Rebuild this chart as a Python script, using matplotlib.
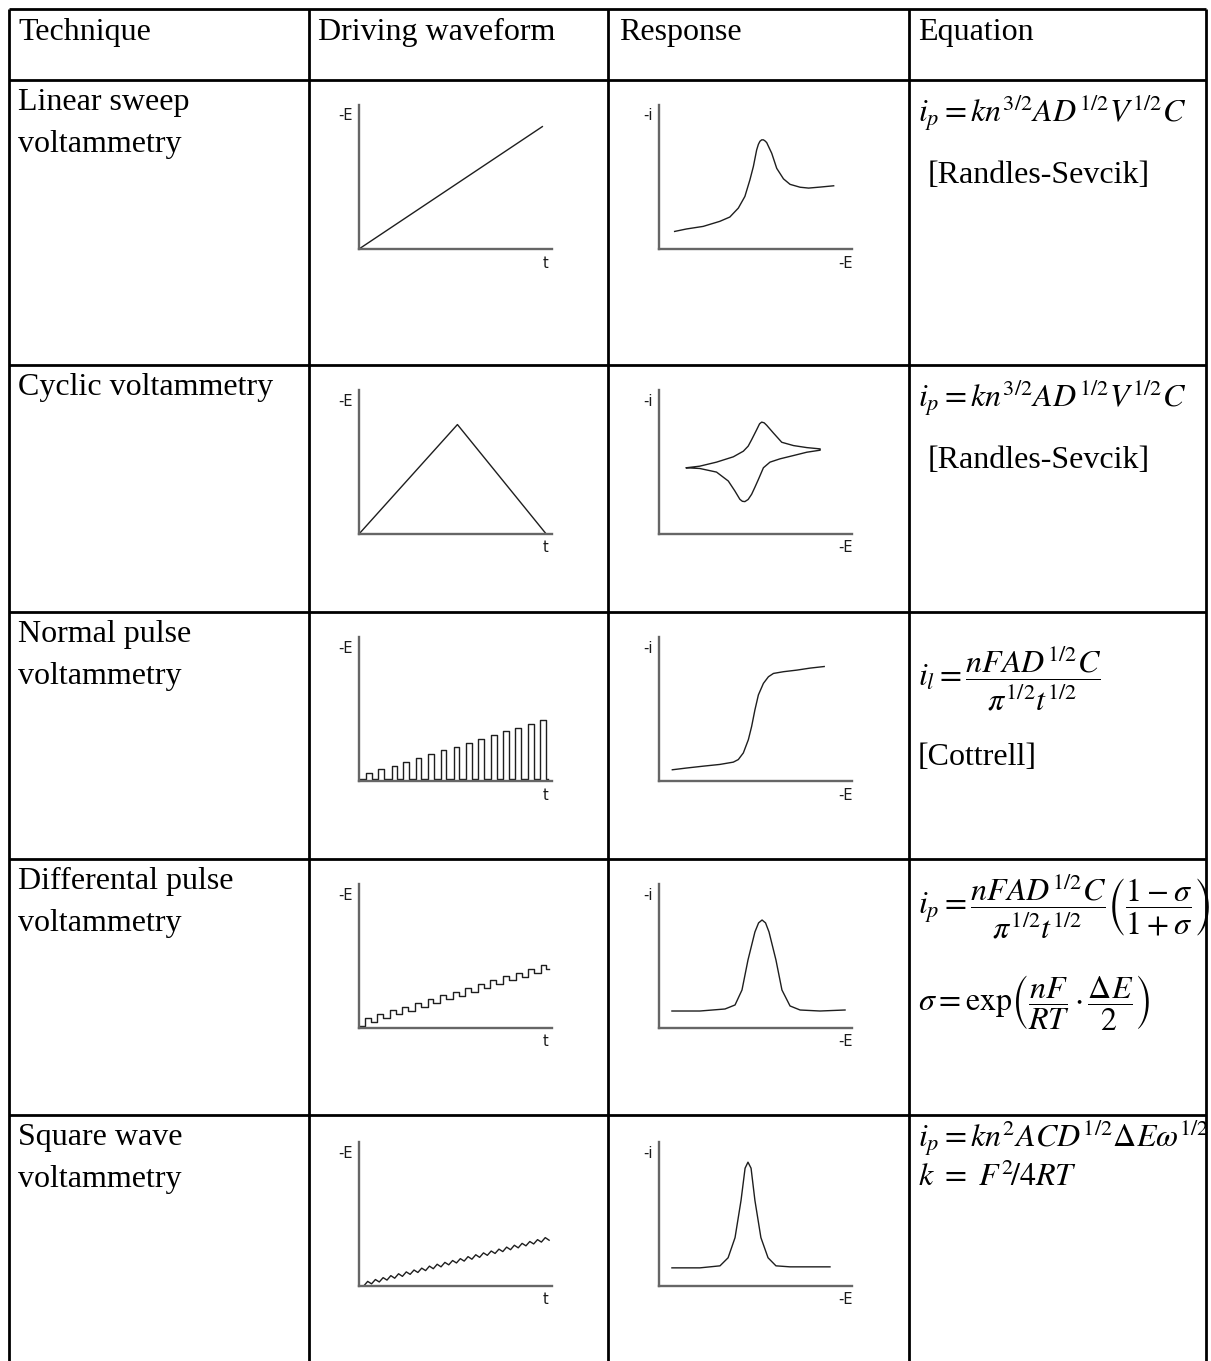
import matplotlib
matplotlib.use('Agg')
import matplotlib.pyplot as plt

W, H = 1211, 1361
DPI = 100

plt.rcParams['font.family'] = ['Liberation Serif', 'DejaVu Serif']
plt.rcParams['mathtext.fontset'] = 'stix'

# ---------------- table content ----------------
headers = ['Technique', 'Driving waveform', 'Response', 'Equation']
techniques = [['Linear sweep', 'voltammetry'],
              ['Cyclic voltammetry'],
              ['Normal pulse', 'voltammetry'],
              ['Differental pulse', 'voltammetry'],
              ['Square wave', 'voltammetry']]

# ---------------- driving waveforms (t, -E) ----------------
lsv_t = [0.0, 0.95]
lsv_E = [0.0, 0.85]

cv_t = [0.0, 0.51, 0.97]
cv_E = [0.0, 0.76, 0.0]

np_left = [0.035, 0.101, 0.169, 0.228, 0.293, 0.359, 0.423, 0.490,
           0.556, 0.617, 0.683, 0.747, 0.810, 0.875, 0.939]
np_height = [0.053, 0.083, 0.106, 0.134, 0.160, 0.185, 0.213, 0.238,
             0.264, 0.292, 0.317, 0.345, 0.370, 0.398, 0.421]
np_width = 0.030
np_base = 0.012
np_end = 0.979

dp_left = [0.030, 0.095, 0.160, 0.225, 0.290, 0.356, 0.421, 0.486,
           0.551, 0.616, 0.681, 0.746, 0.812, 0.877, 0.941]
dp_base = [0.016, 0.042, 0.067, 0.095, 0.120, 0.146, 0.174, 0.199,
           0.225, 0.252, 0.278, 0.303, 0.331, 0.356, 0.382, 0.410]
dp_top = [0.069, 0.095, 0.123, 0.148, 0.174, 0.201, 0.227, 0.252,
          0.280, 0.306, 0.331, 0.359, 0.384, 0.410, 0.438]
dp_width = 0.030
dp_end = 0.983

sw_t = [0.0, 0.025, 0.045, 0.065, 0.085, 0.105, 0.125, 0.145, 0.165, 0.185,
        0.205, 0.225, 0.245, 0.265, 0.285, 0.305, 0.325, 0.345, 0.365,
        0.385, 0.405, 0.425, 0.445, 0.465, 0.485, 0.505, 0.525, 0.545,
        0.565, 0.585, 0.605, 0.625, 0.645, 0.665, 0.685, 0.705, 0.725,
        0.745, 0.765, 0.785, 0.805, 0.825, 0.845, 0.865, 0.885, 0.905,
        0.925, 0.945, 0.965, 0.985]
sw_E = [0.0, 0.001, 0.032, 0.015, 0.045, 0.028, 0.058, 0.041, 0.072, 0.054,
        0.085, 0.067, 0.098, 0.081, 0.111, 0.094, 0.124, 0.107, 0.138,
        0.120, 0.151, 0.133, 0.164, 0.147, 0.177, 0.160, 0.190, 0.173,
        0.204, 0.186, 0.217, 0.199, 0.230, 0.213, 0.243, 0.226, 0.256,
        0.239, 0.270, 0.252, 0.283, 0.265, 0.296, 0.279, 0.309, 0.292,
        0.322, 0.305, 0.336, 0.318]

# ---------------- responses (-E, -i) ----------------
lsvr_E = [0.081, 0.142, 0.229, 0.315, 0.367, 0.411, 0.445, 0.471, 0.489,
          0.506, 0.515, 0.523, 0.532, 0.541, 0.549, 0.558, 0.584, 0.610,
          0.645, 0.679, 0.731, 0.775, 0.835, 0.905]
lsvr_i = [0.122, 0.139, 0.157, 0.192, 0.222, 0.284, 0.365, 0.480, 0.573,
          0.688, 0.727, 0.748, 0.758, 0.758, 0.751, 0.739, 0.665, 0.560,
          0.487, 0.449, 0.429, 0.423, 0.430, 0.439]

cvr_E = [0.142, 0.211, 0.298, 0.385, 0.437, 0.462, 0.480, 0.506, 0.521,
         0.532, 0.545, 0.558, 0.593, 0.636, 0.697, 0.766, 0.835,
         0.835, 0.766, 0.697, 0.627, 0.575, 0.541, 0.515, 0.497, 0.480,
         0.462, 0.445, 0.432, 0.419, 0.393, 0.359, 0.298, 0.211, 0.142]
cvr_i = [0.460, 0.471, 0.499, 0.536, 0.575, 0.610, 0.655, 0.724, 0.765,
         0.777, 0.772, 0.755, 0.701, 0.637, 0.614, 0.600, 0.591,
         0.582, 0.568, 0.545, 0.522, 0.499, 0.460, 0.379, 0.325, 0.276,
         0.240, 0.225, 0.227, 0.241, 0.299, 0.368, 0.430, 0.455, 0.460]

npr_E = [0.069, 0.142, 0.229, 0.315, 0.385, 0.411, 0.437, 0.463, 0.480,
         0.497, 0.515, 0.541, 0.567, 0.593, 0.645, 0.714, 0.783, 0.856]
npr_i = [0.078, 0.090, 0.103, 0.115, 0.131, 0.149, 0.195, 0.287, 0.379,
         0.494, 0.598, 0.678, 0.724, 0.747, 0.759, 0.770, 0.784, 0.795]

dpr_E = [0.067, 0.212, 0.342, 0.394, 0.430, 0.461, 0.497, 0.516, 0.534,
         0.552, 0.570, 0.606, 0.637, 0.679, 0.731, 0.834, 0.964]
dpr_i = [0.118, 0.118, 0.132, 0.160, 0.264, 0.472, 0.667, 0.730, 0.750,
         0.730, 0.667, 0.472, 0.264, 0.153, 0.125, 0.118, 0.125]

swr_E = [0.067, 0.212, 0.316, 0.358, 0.394, 0.425, 0.446, 0.461, 0.477,
         0.497, 0.528, 0.565, 0.606, 0.679, 0.886]
swr_i = [0.126, 0.126, 0.140, 0.196, 0.336, 0.594, 0.818, 0.860, 0.818,
         0.594, 0.336, 0.196, 0.140, 0.133, 0.133]

# ---------------- equations ----------------
eq_rows = [
    [r'$i_p = kn^{3/2}AD^{1/2}V^{1/2}C$'],
    [r'$i_p = kn^{3/2}AD^{1/2}V^{1/2}C$'],
    [r'$i_l = \dfrac{nFAD^{1/2}C}{\pi^{1/2}t^{1/2}}$'],
    [r'$i_p = \dfrac{nFAD^{1/2}C}{\pi^{1/2}t^{1/2}}\left(\dfrac{1-\sigma}{1+\sigma}\right)$',
     r'$\sigma = \mathrm{exp}\left(\dfrac{nF}{RT}\cdot\dfrac{\Delta E}{2}\right)$'],
    [r'$i_p = kn^2ACD^{1/2}\Delta E\omega^{1/2}$',
     r'$k\ =\ F^2\!/4RT$'],
]
eq_notes = ['[Randles-Sevcik]', '[Randles-Sevcik]', '[Cottrell]', '', '']

# ---------------- layout ----------------
col_x = [9, 309, 608, 909, 1206]
row_y = [9, 80, 365, 612, 859, 1115]
plot_top = [105, 390, 637, 884, 1142]
PH, PW = 144, 193
drive_x0, resp_x0 = 359, 659

fig = plt.figure(figsize=(W / DPI, H / DPI), dpi=DPI)
bg = fig.add_axes([0, 0, 1, 1])
bg.set_xlim(0, W)
bg.set_ylim(H, 0)
bg.axis('off')

LW = 2.0
bg.vlines(col_x, row_y[0], H, colors='black', lw=LW)
bg.hlines(row_y, col_x[0], col_x[-1], colors='black', lw=LW)

FS = 23
for x, s in zip([18, 318, 619, 918], headers):
    bg.text(x, row_y[0] + 31, s, fontsize=FS, va='baseline')

for r, lines in enumerate(techniques):
    top = row_y[r + 1]
    for k, s in enumerate(lines):
        bg.text(18, top + 30 + 42 * k, s, fontsize=FS, va='baseline')

# equations
EFS = 23
eq_centers = [[113], [398], [678], [906, 1003], [1138, 1178]]
note_base = [183, 468, 765, None, None]
note_x = [928, 928, 918, None, None]
for r in range(5):
    for s, yc in zip(eq_rows[r], eq_centers[r]):
        bg.text(918, yc, s, fontsize=EFS, va='center', ha='left')
    if eq_notes[r]:
        bg.text(note_x[r], note_base[r], eq_notes[r], fontsize=FS, va='baseline')

AX_COL = '#666666'
LN_COL = '#1e1e1e'
LBL = dict(fontsize=10.5, color='#1a1a1a', family='DejaVu Sans')


def mini(x0, top, ylab, xlab):
    ax = fig.add_axes([x0 / W, 1 - (top + PH) / H, PW / W, PH / H])
    ax.set_xlim(0, 1)
    ax.set_ylim(0, 1)
    ax.patch.set_alpha(0)
    for s in ('top', 'right'):
        ax.spines[s].set_visible(False)
    for s in ('left', 'bottom'):
        ax.spines[s].set_color(AX_COL)
        ax.spines[s].set_linewidth(1.7)
    ax.set_xticks([])
    ax.set_yticks([])
    ax.text(-0.03, 1 - 11 / PH, ylab, transform=ax.transAxes,
            ha='right', va='center', **LBL)
    ax.text(0.965, -14 / PH, xlab, transform=ax.transAxes,
            ha='center', va='center', **LBL)
    return ax


def draw(ax, x, y):
    ax.plot(x, y, color=LN_COL, lw=1.0, clip_on=False,
            solid_joinstyle='round')


# driving waveforms
ax = mini(drive_x0, plot_top[0], '-E', 't')
draw(ax, lsv_t, lsv_E)

ax = mini(drive_x0, plot_top[1], '-E', 't')
draw(ax, cv_t, cv_E)

ax = mini(drive_x0, plot_top[2], '-E', 't')
xs, ys = [0.0], [np_base]
for l, h in zip(np_left, np_height):
    xs += [l, l, l + np_width, l + np_width]
    ys += [np_base, h, h, np_base]
xs.append(np_end)
ys.append(np_base)
draw(ax, xs, ys)

ax = mini(drive_x0, plot_top[3], '-E', 't')
xs, ys = [0.0], [dp_base[0]]
for k, l in enumerate(dp_left):
    xs += [l, l, l + dp_width, l + dp_width]
    ys += [dp_base[k], dp_top[k], dp_top[k], dp_base[k + 1]]
    nxt = dp_left[k + 1] if k + 1 < len(dp_left) else dp_end
    xs.append(nxt)
    ys.append(dp_base[k + 1])
draw(ax, xs, ys)

ax = mini(drive_x0, plot_top[4], '-E', 't')
draw(ax, sw_t, sw_E)

# responses
ax = mini(resp_x0, plot_top[0], '-i', '-E')
draw(ax, lsvr_E, lsvr_i)
ax = mini(resp_x0, plot_top[1], '-i', '-E')
draw(ax, cvr_E, cvr_i)
ax = mini(resp_x0, plot_top[2], '-i', '-E')
draw(ax, npr_E, npr_i)
ax = mini(resp_x0, plot_top[3], '-i', '-E')
draw(ax, dpr_E, dpr_i)
ax = mini(resp_x0, plot_top[4], '-i', '-E')
draw(ax, swr_E, swr_i)

fig.savefig('out.png', dpi=DPI)
